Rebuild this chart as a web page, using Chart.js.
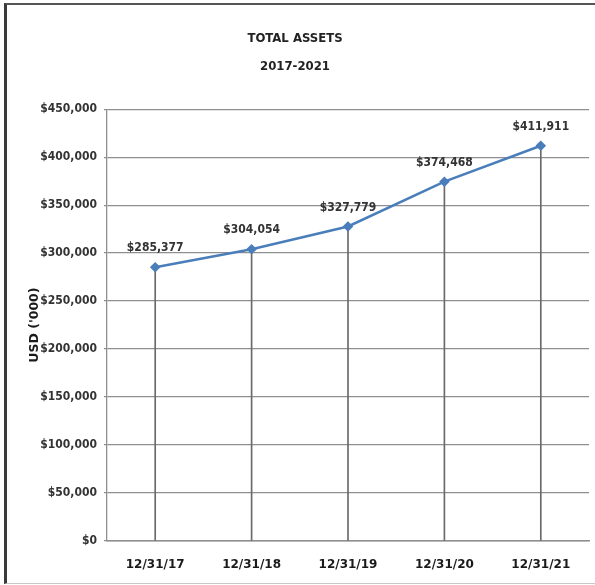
<!DOCTYPE html>
<html>
<head>
<meta charset="utf-8">
<title>Total Assets 2017-2021</title>
<script src="https://cdn.jsdelivr.net/npm/chart.js@4.4.1/dist/chart.umd.min.js"></script>
<style>
    html, body { margin: 0; padding: 0; background: #fff; }
    #wrap { position: relative; width: 595px; height: 585px; overflow: hidden; }
    #wrap canvas { position: absolute; left: 0; top: 0; }
    #frame {
        position: absolute; left: 4px; top: 3px; width: 600px; height: 578px;
        border-left: 3px solid #3a3a3a; border-top: 2px solid #555;
        border-bottom: 1px solid #c8c8c8; pointer-events: none;
    }
</style>
</head>
<body>
<div id="wrap">
    <canvas id="chart" width="595" height="585"></canvas>
    <div id="frame"></div>
</div>
<script>
// ---- data ----
const periods = ['12/31/17', '12/31/18', '12/31/19', '12/31/20', '12/31/21'];
const totalAssets = [285377, 304054, 327779, 374468, 411911];
const yTicks = [0, 50000, 100000, 150000, 200000, 250000, 300000, 350000, 400000, 450000];

const narrow = "'DejaVu Sans Condensed', 'Liberation Sans Narrow', 'Liberation Sans', sans-serif";
const money = v => '$' + v.toLocaleString('en-US');

// value labels above each point
const valueLabels = {
    id: 'valueLabels',
    afterDatasetsDraw(chart) {
        const meta = chart.getDatasetMeta(1);
        const ctx = chart.ctx;
        ctx.save();
        ctx.font = 'bold 12px ' + narrow;
        ctx.fillStyle = '#333';
        ctx.textAlign = 'center';
        ctx.textBaseline = 'middle';
        meta.data.forEach((pt, i) => {
            ctx.fillText(money(totalAssets[i]), pt.x, pt.y - 19);
        });
        ctx.restore();
    }
};

new Chart(document.getElementById('chart'), {
    data: {
        labels: periods,
        datasets: [
            {
                // drop lines from each point down to the axis
                type: 'bar',
                data: totalAssets,
                backgroundColor: '#6a6a6a',
                barThickness: 1,
                order: 2
            },
            {
                type: 'line',
                data: totalAssets,
                borderColor: '#4a7ebb',
                backgroundColor: '#4a7ebb',
                borderWidth: 2.5,
                tension: 0,
                pointStyle: 'rectRot',
                pointRadius: 3.5,
                pointHoverRadius: 3.5,
                order: 1
            }
        ]
    },
    options: {
        responsive: false,
        animation: false,
        layout: { padding: { left: 0, right: 5, top: 0, bottom: 0 } },
        plugins: {
            legend: { display: false },
            tooltip: { enabled: false },
            title: {
                display: true,
                text: ['TOTAL ASSETS', '2017-2021'],
                color: '#222',
                font: { family: narrow, size: 13, weight: 'bold', lineHeight: 2.2 },
                padding: { top: 24, bottom: 28 }
            }
        },
        scales: {
            x: {
                offset: true,
                grid: { display: false, drawTicks: false },
                border: { display: true, color: '#8f8f8f', width: 1.5 },
                ticks: {
                    color: '#1a1a1a',
                    padding: 17,
                    maxRotation: 0,
                    font: { family: "'DejaVu Sans', sans-serif", size: 12, weight: 'bold' }
                },
                afterFit(scale) { scale.height = 44; }
            },
            y: {
                min: 0,
                max: 450000,
                afterBuildTicks(scale) { scale.ticks = yTicks.map(v => ({ value: v })); },
                grid: { color: '#8f8f8f', lineWidth: 1.3, tickLength: 3 },
                border: { display: true, color: '#8f8f8f', width: 1.3 },
                ticks: {
                    color: '#333',
                    padding: 7,
                    font: { family: narrow, size: 12, weight: 'bold' },
                    callback: v => money(v)
                },
                title: {
                    display: true,
                    text: "USD ('000)",
                    color: '#1a1a1a',
                    font: { family: "'DejaVu Sans', sans-serif", size: 12.5, weight: 'bold' },
                    padding: { top: 27, bottom: 0 }
                },
                afterFit(scale) { scale.width = 107; }
            }
        }
    },
    plugins: [valueLabels]
});
</script>
</body>
</html>
